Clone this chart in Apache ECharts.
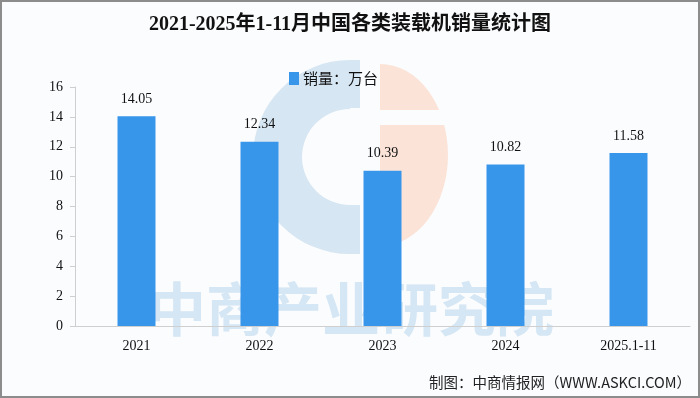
<!DOCTYPE html>
<html>
<head>
<meta charset="utf-8">
<script src="https://cdn.jsdelivr.net/npm/echarts@6/dist/echarts.min.js"></script>
<style>
html,body{margin:0;padding:0;background:#fbfcfe;}
#c{width:700px;height:398px;}
</style>
</head>
<body>
<div id="c"></div>
<script>
const categories = ['2021', '2022', '2023', '2024', '2025.1-11'];
const salesValues = [14.05, 12.34, 10.39, 10.82, 11.58];
const yTicks = [0, 2, 4, 6, 8, 10, 12, 14, 16];
const titleText = '2021-2025年1-11月中国各类装载机销量统计图';
const seriesName = '销量：万台';
const sourceText = '制图：中商情报网（WWW.ASKCI.COM）';
const watermarkText = '中商产业研究院';

const serifFont = '"Liberation Serif", "Noto Sans CJK SC", serif';
const cjkFont = '"Noto Sans CJK SC", sans-serif';

const chart = echarts.init(document.getElementById('c'), null, {renderer: 'canvas'});
chart.setOption({
  backgroundColor: '#fbfcfe',
  animation: false,
  title: {
    text: titleText,
    left: 'center',
    top: 10,
    textStyle: {fontFamily: serifFont, fontSize: 20, fontWeight: 'bold', color: '#111'}
  },
  legend: {
    top: 66,
    left: 284,
    itemWidth: 10,
    itemHeight: 13,
    itemGap: 10,
    icon: 'rect',
    textStyle: {fontFamily: cjkFont, fontSize: 15, color: '#111', padding: [0, 0, 0, -1]},
    data: [seriesName]
  },
  graphic: [
    {type: 'sector', z: -10, silent: true,
     shape: {cx: 350, cy: 157, r: 97, r0: 48, startAngle: Math.PI / 2, endAngle: Math.PI * 1.5, clockwise: true},
     style: {fill: '#d6e6f2'}},
    {type: 'rect', z: -10, silent: true,
     shape: {x: 349, y: 60, width: 11, height: 48},
     style: {fill: '#d6e6f2'}},
    {type: 'rect', z: -10, silent: true,
     shape: {x: 349, y: 205, width: 11, height: 49},
     style: {fill: '#d6e6f2'}},
    {type: 'sector', z: -10, silent: true,
     originX: 380, originY: 155, scaleY: 1.34,
     shape: {cx: 380, cy: 155, r: 68, r0: 0, startAngle: -Math.PI / 2, endAngle: Math.PI / 2, clockwise: true},
     style: {fill: '#fbe3d8'}},
    {type: 'rect', z: -9, silent: true,
     shape: {x: 378, y: 110, width: 80, height: 15},
     style: {fill: '#fbfcfe'}},
    {type: 'text', z: -8, silent: true, left: 148, top: 280,
     style: {text: watermarkText, fontFamily: cjkFont, fontSize: 58, fontWeight: 'bold', fill: 'rgba(160,200,232,0.42)'}},
    {type: 'text', right: 9, top: 375,
     style: {text: sourceText, fontFamily: cjkFont, fontSize: 14.5, fill: '#222'}},
    {type: 'rect', silent: true, z: 100,
     shape: {x: 1, y: 1, width: 698, height: 396},
     style: {fill: 'none', stroke: '#8c8c8c', lineWidth: 2}}
  ],
  grid: {left: 75, right: 10, top: 87, bottom: 72},
  xAxis: {
    type: 'category',
    data: categories,
    axisLine: {lineStyle: {color: '#cfcfcf'}},
    axisTick: {lineStyle: {color: '#cfcfcf'}, length: 5},
    axisLabel: {fontFamily: serifFont, fontSize: 14, color: '#111', margin: 13}
  },
  yAxis: {
    type: 'value',
    min: yTicks[0],
    max: yTicks[yTicks.length - 1],
    interval: yTicks[1] - yTicks[0],
    splitLine: {show: false},
    axisLine: {show: true, lineStyle: {color: '#cfcfcf'}},
    axisTick: {show: true, length: 5, lineStyle: {color: '#cfcfcf'}},
    axisLabel: {fontFamily: serifFont, fontSize: 14, color: '#111', margin: 12}
  },
  series: [{
    name: seriesName,
    type: 'bar',
    data: salesValues,
    barWidth: 38,
    itemStyle: {color: '#3896ea'},
    label: {show: true, position: 'top', distance: 10, fontFamily: serifFont, fontSize: 14, color: '#111',
            formatter: p => p.value.toFixed(2)}
  }]
});
</script>
</body>
</html>
